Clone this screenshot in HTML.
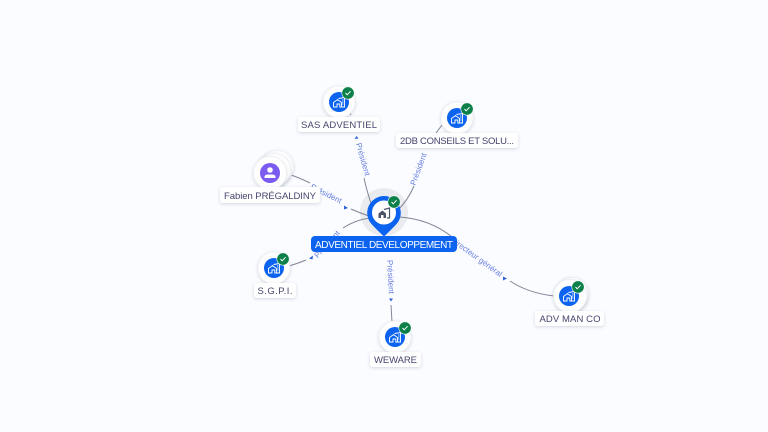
<!DOCTYPE html>
<html><head><meta charset="utf-8"><style>
html,body{margin:0;padding:0;background:#fafcff;width:768px;height:432px;overflow:hidden}
svg{display:block}
text{font-family:"Liberation Sans",sans-serif}
.l{font-size:9.5px;fill:#45456e;text-anchor:middle}
.e{font-size:8px;fill:#6a80e0;text-anchor:middle}
.p{fill:none;stroke:#7f8696;stroke-width:1}
.w{fill:#fff;filter:url(#s)}
circle.w{stroke:#eceef3;stroke-width:.8}
</style></head><body>
<svg width="768" height="432" viewBox="0 0 768 432" xmlns="http://www.w3.org/2000/svg">
<defs>
<filter id="s" x="-30%" y="-30%" width="160%" height="170%"><feDropShadow dx="0" dy="1" stdDeviation="1.500" flood-color="#5a6482" flood-opacity=".25"/></filter>
<g id="b"><path d="M-5.500 5V.5L-1.500-2.500 2.500.5V5H.8V2H-2V5Z" fill="none" stroke="#fff" stroke-width=".9"/><path d="M-.5-3.500L5.500-4.500V5H2.800" fill="none" stroke="#fff" stroke-width=".9"/><path d="M3-2H4.500M3 0H4.500M3 2H4.500" stroke="#fff" stroke-width=".7"/></g>
<g id="c"><circle r="6.200" fill="#0b8048" stroke="#fff" stroke-width=".6"/><path d="M-2.500 0L-.8 1.800 2.600-1.800" fill="none" stroke="#fff" stroke-width="1"/></g>
</defs>
<rect width="768" height="432" fill="#fafcff"/>

<circle cx="384" cy="212" r="24" fill="#e9ebee"/>

<path class="p" d="M364 178Q367 192 372 206"/>
<path class="p" d="M350 113L351 115"/>
<path class="p" d="M442 125Q439 129 436 133"/>
<path class="p" d="M414 186Q408 200 398 210"/>
<path class="p" d="M291 175Q300 178 310 183"/>
<path class="p" d="M351 209Q360 213 369 216"/>
<path class="p" d="M289 266Q299 263 306 260"/>
<path class="p" d="M343 228Q355 220 370 218"/>
<path class="p" d="M391 305L392 322"/>
<path class="p" d="M399 217Q430 219 452 237"/>
<path class="p" d="M510 281Q528 293 554 296"/>

<text class="e" transform="translate(360.500 160) rotate(74)">Président</text>
<text class="e" transform="translate(421 170) rotate(-70)">Président</text>
<text class="e" transform="translate(325 196) rotate(27)">Président</text>
<text class="e" transform="translate(329 246) rotate(-48)">Président</text>
<text class="e" transform="translate(388 277) rotate(87)">Président</text>
<text class="e" transform="translate(475 259) rotate(36)">Directeur général</text>

<g fill="#2f62d8">
<path d="M354.500 136.500L358.500 136L356.500 139Z" transform="rotate(180 356.500 137.500)"/>
<path d="M344 205.500L348 208L344 209.500Z"/>
<path d="M309 258.500L313 255.500L312.500 259.500Z"/>
<path d="M389 298.500H393L391 301.500Z"/>
<path d="M503 276.500L507 278.500 503 280.500Z"/>
</g>

<!-- SAS -->
<circle class="w" cx="339" cy="102" r="16"/><circle cx="339" cy="102" r="10" fill="#0b63ef"/><use href="#b" x="339" y="102"/><use href="#c" x="348" y="93"/>
<rect class="w" x="298" y="117" width="82" height="15" rx="3"/><text class="l" x="339" y="128" textLength="76">SAS ADVENTIEL</text>
<!-- 2DB -->
<circle class="w" cx="457" cy="118" r="16"/><circle cx="457" cy="118" r="10" fill="#0b63ef"/><use href="#b" x="457" y="118"/><use href="#c" x="467" y="109"/>
<rect class="w" x="396" y="133" width="122" height="15" rx="3"/><text class="l" x="457" y="144" textLength="114">2DB CONSEILS ET SOLU...</text>
<!-- Fabien -->
<circle class="w" cx="277" cy="167" r="16.500"/><circle class="w" cx="274" cy="170" r="16.500"/><circle class="w" cx="270" cy="173" r="16.500"/>
<circle cx="270" cy="173" r="10" fill="#7c5cf0"/><circle cx="270" cy="170" r="2.800" fill="#fff"/><path d="M264.500 178V176.500Q265 174.500 268 174.500H272Q275 174.500 275.500 176.500V178Z" fill="#fff"/>
<rect class="w" x="220" y="187" width="100" height="16" rx="3"/><text class="l" x="270" y="199" textLength="92">Fabien PRÉGALDINY</text>
<!-- SGPI -->
<circle class="w" cx="274" cy="268" r="16"/><circle cx="274" cy="268" r="10" fill="#0b63ef"/><use href="#b" x="274" y="268"/><use href="#c" x="283" y="259"/>
<rect class="w" x="254" y="283" width="42" height="15" rx="3"/><text class="l" x="275" y="294" textLength="35">S.G.P.I.</text>
<!-- WEWARE -->
<circle class="w" cx="395" cy="337" r="16"/><circle cx="395" cy="337" r="10" fill="#0b63ef"/><use href="#b" x="395" y="337"/><use href="#c" x="405" y="328"/>
<rect class="w" x="370" y="352" width="51" height="15" rx="3"/><text class="l" x="395.500" y="363" textLength="43">WEWARE</text>
<!-- ADV -->
<circle class="w" cx="572" cy="294" r="16.500"/><circle class="w" cx="570" cy="296" r="16.500"/><circle cx="569" cy="296" r="10" fill="#0b63ef"/><use href="#b" x="569" y="296"/><use href="#c" x="578" y="287"/>
<rect class="w" x="535" y="311" width="69" height="15" rx="3"/><text class="l" x="570" y="322" textLength="61">ADV MAN CO</text>
<!-- Center -->
<path d="M384 236.500Q375 228 371 223.500A16.800 16.800 0 1 1 397 223.500Q393 228 384 236.500Z" fill="#0b63ef"/>
<circle cx="384" cy="212.500" r="12" fill="#fff"/>
<path d="M378.500 218V213.500L382.500 210.500 386 213.500V218Z" fill="#4a5468"/><path d="M384 209.500L389.500 208V218H387" fill="none" stroke="#4a5468" stroke-width="1.200"/><rect x="381" y="215" width="2.500" height="3" fill="#fff"/>
<use href="#c" x="394" y="202"/>
<rect x="311" y="236" width="146" height="16" rx="4" fill="#0b63ef"/>
<text x="384" y="248" font-size="10" fill="#fff" text-anchor="middle" textLength="138">ADVENTIEL DEVELOPPEMENT</text>
</svg>
</body></html>
